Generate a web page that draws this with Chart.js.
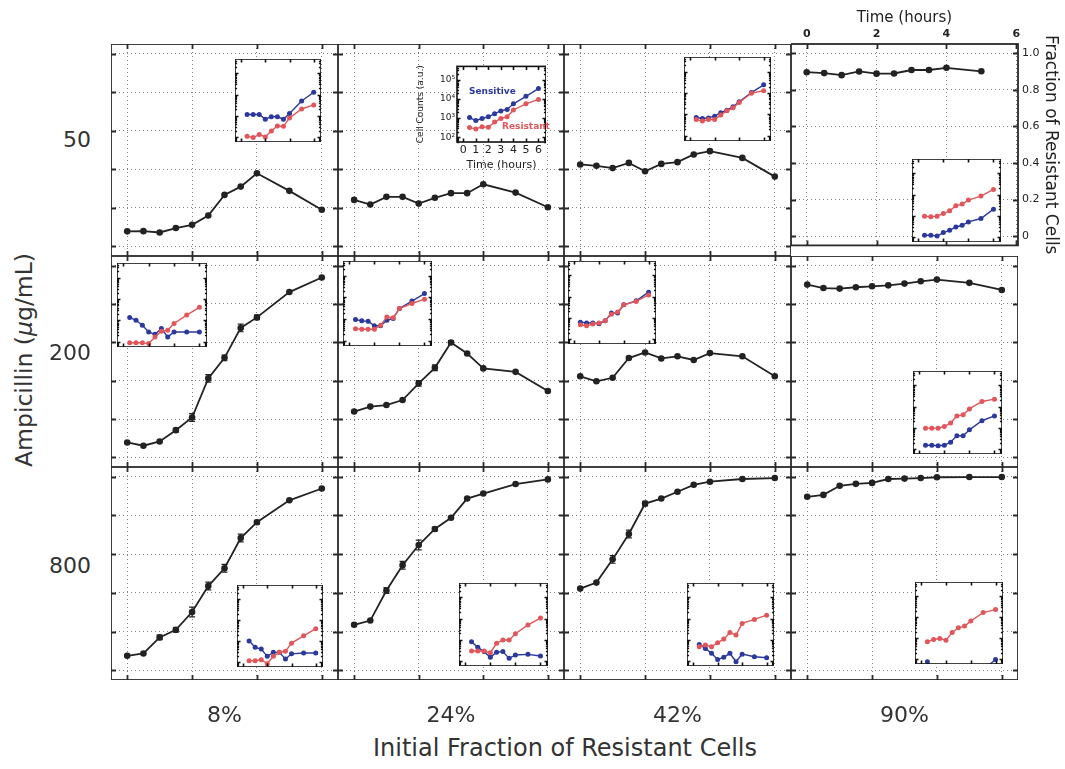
<!DOCTYPE html>
<html>
<head>
<meta charset="utf-8">
<script src="https://cdn.jsdelivr.net/npm/chart.js@4.4.0/dist/chart.umd.min.js"></script>
<style>
  body { margin: 0; background: #fff; }
  #fig { position: relative; width: 1065px; height: 769px; overflow: hidden; background: #fff; color: #333; font-family: "DejaVu Sans", sans-serif; }
  #fig canvas { position: absolute; }
  .lbl { position: absolute; white-space: nowrap; font-size: 22px; line-height: 1; }
  .title { font-size: 24px; }
  .tag { position: absolute; white-space: nowrap; font: bold 9px "DejaVu Sans", sans-serif; }
</style>
</head>
<body>
<div id="fig"></div>
<script>
// time points (hours)
const hours = [0, 0.5, 1, 1.5, 2, 2.5, 3, 3.5, 4, 5, 6];
const hoursTopRight = [0, 0.5, 1, 1.5, 2, 2.5, 3, 3.5, 4, 5];
const insetHours = [0.5, 1, 1.5, 2, 2.5, 3, 3.5, 4, 5, 6];

const ampicillin = ['50', '200', '800'];
const initialFraction = ['8%', '24%', '42%', '90%'];

const timeTicks = [0, 2, 4, 6];
const fractionTicks = [0, 0.2, 0.4, 0.6, 0.8, 1.0];
const fractionTickLabels = ['0', '0.2', '0.4', '0.6', '0.8', '1.0'];
const insetTimeTicks = [0, 1, 2, 3, 4, 5, 6];
const countTicks = [100, 1000, 10000, 100000];
const countTickLabels = ['10\u00b2', '10\u00b3', '10\u2074', '10\u2075'];

// fraction of resistant cells (rows: ampicillin, cols: initial fraction)
const frac_50_8   = [0.078, 0.079, 0.072, 0.095, 0.112, 0.160, 0.267, 0.310, 0.379, 0.288, 0.190];
const frac_50_24  = [0.241, 0.217, 0.257, 0.257, 0.222, 0.252, 0.276, 0.276, 0.322, 0.279, 0.203];
const frac_50_42  = [0.425, 0.418, 0.406, 0.433, 0.390, 0.428, 0.437, 0.477, 0.494, 0.459, 0.362];
const frac_50_90  = [0.896, 0.891, 0.880, 0.900, 0.888, 0.889, 0.908, 0.908, 0.920, 0.901];
const frac_200_8  = [0.078, 0.061, 0.083, 0.142, 0.208, 0.412, 0.519, 0.675, 0.730, 0.862, 0.938];
const frac_200_24 = [0.239, 0.265, 0.273, 0.299, 0.386, 0.467, 0.599, 0.542, 0.464, 0.446, 0.346];
const frac_200_42 = [0.423, 0.397, 0.415, 0.518, 0.547, 0.516, 0.527, 0.508, 0.544, 0.527, 0.423];
const frac_200_90 = [0.901, 0.883, 0.880, 0.887, 0.892, 0.897, 0.906, 0.918, 0.927, 0.910, 0.873];
const frac_800_8  = [0.075, 0.087, 0.170, 0.209, 0.301, 0.435, 0.527, 0.683, 0.765, 0.878, 0.939];
const frac_800_24 = [0.235, 0.257, 0.412, 0.543, 0.647, 0.730, 0.788, 0.887, 0.913, 0.962, 0.986];
const frac_800_42 = [0.422, 0.453, 0.573, 0.704, 0.861, 0.887, 0.922, 0.958, 0.974, 0.988, 0.993];
const frac_800_90 = [0.896, 0.906, 0.953, 0.963, 0.968, 0.988, 0.990, 0.993, 0.997, 0.998, 0.998];

// standard errors on the fraction (only where bars are visible)
const err_200_8  = [0, 0, 0, 0.01, 0.02, 0.02, 0.015, 0.02, 0.012, 0, 0];
const err_200_24 = [0, 0, 0, 0, 0.015, 0.015, 0.01, 0, 0, 0, 0];
const err_800_8  = [0, 0, 0.012, 0.012, 0.025, 0.02, 0.02, 0.02, 0.01, 0, 0];
const err_800_24 = [0, 0, 0.015, 0.02, 0.025, 0.01, 0, 0, 0, 0, 0];
const err_800_42 = [0, 0, 0.02, 0.02, 0.012, 0, 0, 0, 0, 0, 0];

// inset cell counts (a.u.): sensitive (blue) and resistant (red)
const sens_50_8   = [1150, 1150, 1150, 690, 890, 890, 690, 1290, 5000, 12900];
const res_50_8    = [107, 93, 129, 100, 190, 330, 316, 790, 2090, 3240];
const sens_50_24  = [1070, 740, 950, 1170, 1700, 2340, 2820, 5500, 13500, 33900];
const res_50_24   = [320, 275, 355, 330, 620, 950, 1170, 2630, 5500, 9300];
const sens_50_42  = [720, 650, 690, 830, 1200, 1580, 2290, 3890, 10500, 24000];
const res_50_42   = [575, 490, 575, 575, 930, 1480, 2040, 3630, 9770, 12900];
const sens_50_90  = [120, 120, 110, 160, 205, 295, 355, 510, 740, 2040];
const res_50_90   = [955, 890, 955, 1260, 1700, 2950, 3550, 5500, 8500, 17400];
const sens_200_8  = [1380, 1020, 600, 290, 224, 417, 170, 290, 290, 290];
const res_200_8   = [91, 91, 91, 83, 170, 316, 347, 724, 1780, 4070];
const sens_200_24 = [955, 830, 795, 490, 490, 890, 1070, 3090, 6760, 15100];
const res_200_24  = [363, 339, 339, 339, 525, 1260, 1150, 3090, 5250, 8320];
const sens_200_42 = [617, 562, 562, 525, 724, 1660, 1660, 4070, 6310, 16200];
const res_200_42  = [468, 417, 501, 562, 724, 1480, 1860, 4070, 5890, 12000];
const sens_200_90 = [148, 148, 141, 148, 209, 417, 417, 794, 2140, 3630];
const res_200_90  = [955, 955, 955, 1150, 1660, 3630, 4070, 7760, 17400, 22400];
const sens_800_8  = [1020, 501, 417, 186, 288, 288, 138, 245, 269, 269];
const res_800_8   = [115, 115, 129, 83, 186, 288, 324, 794, 1780, 3890];
const sens_800_24 = [813, 437, 275, 148, 257, 275, 132, 191, 204, 170];
const res_800_24  = [295, 295, 295, 245, 676, 977, 977, 1910, 5010, 10500];
const sens_800_42 = [603, 389, 229, 117, 148, 229, 91, 209, 158, 141];
const res_800_42  = [468, 562, 468, 724, 1070, 2190, 1660, 5890, 9120, 14500];
const sens_800_90 = [74, 30, 30, 30, 30, 30, 30, 30, 30, 95];
const res_800_90  = [661, 851, 955, 794, 1860, 3090, 3720, 6460, 16600, 22900];

const fractions = [
  [frac_50_8, frac_50_24, frac_50_42, frac_50_90],
  [frac_200_8, frac_200_24, frac_200_42, frac_200_90],
  [frac_800_8, frac_800_24, frac_800_42, frac_800_90]
];
const errors = [
  [null, null, null, null],
  [err_200_8, err_200_24, null, null],
  [err_800_8, err_800_24, err_800_42, null]
];
const sensitive = [
  [sens_50_8, sens_50_24, sens_50_42, sens_50_90],
  [sens_200_8, sens_200_24, sens_200_42, sens_200_90],
  [sens_800_8, sens_800_24, sens_800_42, sens_800_90]
];
const resistant = [
  [res_50_8, res_50_24, res_50_42, res_50_90],
  [res_200_8, res_200_24, res_200_42, res_200_90],
  [res_800_8, res_800_24, res_800_42, res_800_90]
];

// layout
const colX = [111, 338, 564, 791, 1018];
const rowY = [44, 256, 467, 680];
// inset plot boxes [left, top, width, height]
const insetBox = [
  [[235, 59, 86, 83], [457, 59, 89, 83], [684, 57, 87, 84], [912, 159, 89, 83]],
  [[117, 263, 90, 84], [343, 261, 89, 85], [568, 261, 88, 83], [913, 371, 89, 83]],
  [[237, 585, 86, 82], [459, 583, 89, 83], [687, 583, 87, 83], [915, 582, 88, 82]]
];

const BLUE = '#2b389c';
const RED = '#e0565a';
const INK = '#222';

const frameBox = {
  id: 'frameBox',
  beforeDraw(chart, args, o) {
    if (!o.fill) return;
    const { ctx, chartArea: a } = chart;
    ctx.save();
    ctx.fillStyle = o.fill;
    ctx.fillRect(a.left, a.top, a.width, a.height);
    ctx.restore();
  },
  afterDatasetsDraw(chart, args, o) {
    // error bars read from the dataset's own errors array
    const ds = chart.data.datasets[0];
    if (!ds.errors) return;
    const { ctx, scales: { y } } = chart;
    const meta = chart.getDatasetMeta(0);
    ctx.save();
    ctx.strokeStyle = INK;
    ctx.lineWidth = 1.2;
    ctx.beginPath();
    meta.data.forEach((pt, i) => {
      const e = ds.errors[i];
      if (!e) return;
      const v = ds.data[i].y;
      const y1 = y.getPixelForValue(v - e), y2 = y.getPixelForValue(v + e);
      ctx.moveTo(pt.x, y1); ctx.lineTo(pt.x, y2);
      ctx.moveTo(pt.x - 3, y1); ctx.lineTo(pt.x + 3, y1);
      ctx.moveTo(pt.x - 3, y2); ctx.lineTo(pt.x + 3, y2);
    });
    ctx.stroke();
    ctx.restore();
  },
  afterDraw(chart, args, o) {
    if (!o.color) return;
    const { ctx, chartArea: a, scales } = chart;
    const x = scales.x, y = scales.y;
    ctx.save();
    ctx.strokeStyle = o.color;
    ctx.lineWidth = o.lineWidth;
    ctx.beginPath();
    x.ticks.forEach(t => {
      const p = Math.round(x.getPixelForValue(t.value)) + 0.5;
      ctx.moveTo(p, a.top); ctx.lineTo(p, a.top + o.tick);
      ctx.moveTo(p, a.bottom); ctx.lineTo(p, a.bottom - o.tick);
    });
    y.ticks.forEach(t => {
      const p = Math.round(y.getPixelForValue(t.value)) + 0.5;
      ctx.moveTo(a.left, p); ctx.lineTo(a.left + o.tick, p);
      ctx.moveTo(a.right, p); ctx.lineTo(a.right - o.tick, p);
    });
    if (o.minor) {
      for (let e = 1; e < 6; e++) {
        for (let k = 2; k < 10; k++) {
          const v = k * Math.pow(10, e);
          if (v < y.min || v > y.max) continue;
          const p = Math.round(y.getPixelForValue(v)) + 0.5;
          ctx.moveTo(a.left, p); ctx.lineTo(a.left + o.tick * 0.6, p);
          ctx.moveTo(a.right, p); ctx.lineTo(a.right - o.tick * 0.6, p);
        }
      }
    }
    ctx.stroke();
    ctx.strokeRect(a.left, a.top, a.width, a.height);
    ctx.restore();
  }
};
Chart.register(frameBox);

const fig = document.getElementById('fig');

function addCanvas(left, top, w, h) {
  const c = document.createElement('canvas');
  c.width = w; c.height = h;
  c.style.left = left + 'px'; c.style.top = top + 'px';
  c.style.width = w + 'px'; c.style.height = h + 'px';
  fig.appendChild(c);
  return c;
}

function addLabel(text, x, y, cls, extra) {
  const d = document.createElement('div');
  d.className = cls;
  d.textContent = text;
  d.style.left = x + 'px';
  d.style.top = y + 'px';
  d.style.transform = extra || 'translate(-50%, -50%)';
  fig.appendChild(d);
  return d;
}

const setTicks = list => scale => { scale.ticks = list.map(v => ({ value: v })); };
const fixSize = (key, size) => scale => { scale[key] = size; };

// main panels
for (let r = 0; r < 3; r++) {
  for (let c = 0; c < 4; c++) {
    const topRight = (r === 0 && c === 3);
    const times = topRight ? hoursTopRight : hours;
    const vals = fractions[r][c];
    const w = colX[c + 1] - colX[c], h = rowY[r + 1] - rowY[r];
    const canvas = topRight
      ? addCanvas(colX[c], 0, w + 47, rowY[1])
      : addCanvas(colX[c], rowY[r], w, h);

    new Chart(canvas, {
      type: 'line',
      data: {
        datasets: [{
          data: times.map((t, i) => ({ x: t, y: vals[i] })),
          errors: errors[r][c],
          borderColor: INK,
          backgroundColor: INK,
          borderWidth: 1.8,
          pointRadius: 3.3,
          pointBorderWidth: 0,
          pointBackgroundColor: INK,
          tension: 0
        }]
      },
      options: {
        responsive: false,
        animation: false,
        events: [],
        layout: { padding: 0, autoPadding: false },
        plugins: {
          legend: { display: false },
          tooltip: { enabled: false },
          frameBox: { color: '#2a2a2a', lineWidth: 1.8, tick: 5 }
        },
        scales: {
          x: {
            type: 'linear',
            position: topRight ? 'top' : 'bottom',
            min: topRight ? -0.45 : -0.5,
            max: topRight ? 6.05 : 6.5,
            afterBuildTicks: setTicks(timeTicks),
            afterFit: fixSize('height', topRight ? 44 : 0),
            grid: { color: '#808080', lineWidth: 1, drawTicks: false },
            border: { display: false, dash: [1, 3] },
            ticks: {
              display: topRight,
              padding: 3,
              color: INK,
              font: { family: 'DejaVu Sans', size: 11, weight: 'bold' }
            },
            title: {
              display: topRight,
              text: 'Time (hours)',
              color: INK,
              padding: { top: 9, bottom: 0 },
              font: { family: 'DejaVu Sans', size: 15 }
            }
          },
          y: {
            type: 'linear',
            position: topRight ? 'right' : 'left',
            min: -0.05,
            max: 1.05,
            afterBuildTicks: setTicks(fractionTicks),
            afterFit: fixSize('width', topRight ? 47 : 0),
            grid: { color: '#808080', lineWidth: 1, drawTicks: false },
            border: { display: false, dash: [1, 3] },
            ticks: {
              display: topRight,
              padding: 4,
              color: INK,
              font: { family: 'DejaVu Sans', size: 11 },
              callback: v => fractionTickLabels[fractionTicks.indexOf(v)]
            },
            title: {
              display: topRight,
              text: 'Fraction of Resistant Cells',
              color: INK,
              padding: { top: 4, bottom: 0 },
              font: { family: 'DejaVu Sans', size: 17 }
            }
          }
        }
      }
    });
  }
}

// insets
for (let r = 0; r < 3; r++) {
  for (let c = 0; c < 4; c++) {
    const labeled = (r === 0 && c === 1);
    const [bx, by, bw, bh] = insetBox[r][c];
    const padL = labeled ? 42 : 0, padB = labeled ? 30 : 0;
    const canvas = addCanvas(bx - padL, by, bw + padL, bh + padB);
    const sens = sensitive[r][c], res = resistant[r][c];
    const series = (vals, color) => ({
      data: insetHours.map((t, i) => ({ x: t, y: vals[i] })),
      borderColor: color,
      backgroundColor: color,
      borderWidth: 1.4,
      pointRadius: 2.5,
      pointBorderWidth: 0,
      tension: 0
    });

    new Chart(canvas, {
      type: 'line',
      data: { datasets: [series(res, RED), series(sens, BLUE)] },
      options: {
        responsive: false,
        animation: false,
        events: [],
        layout: { padding: 0, autoPadding: false },
        plugins: {
          legend: { display: false },
          tooltip: { enabled: false },
          frameBox: { fill: '#fff', color: '#111', lineWidth: 1.6, tick: 3.5, minor: true }
        },
        scales: {
          x: {
            type: 'linear',
            min: -0.5,
            max: 6.6,
            afterBuildTicks: setTicks(labeled ? insetTimeTicks : timeTicks),
            afterFit: fixSize('height', padB),
            grid: { display: false, drawTicks: false },
            border: { display: false },
            ticks: {
              display: labeled,
              padding: 2,
              color: INK,
              font: { family: 'DejaVu Sans', size: 11 }
            },
            title: {
              display: labeled,
              text: 'Time (hours)',
              color: INK,
              padding: 0,
              font: { family: 'DejaVu Sans', size: 11 }
            }
          },
          y: {
            type: 'logarithmic',
            min: 57.5,
            max: 478630,
            afterBuildTicks: setTicks(countTicks),
            afterFit: fixSize('width', padL),
            grid: { display: false, drawTicks: false },
            border: { display: false },
            ticks: {
              display: labeled,
              padding: 2,
              color: INK,
              font: { family: 'DejaVu Sans', size: 9 },
              callback: v => countTickLabels[countTicks.indexOf(v)]
            },
            title: {
              display: labeled,
              text: 'Cell Counts (a.u.)',
              color: INK,
              padding: 0,
              font: { family: 'DejaVu Sans', size: 9 }
            }
          }
        }
      }
    });
  }
}

// series names inside the labelled inset
const s = addLabel('Sensitive', 469, 86, 'tag', 'none');
s.style.color = BLUE;
const rr = addLabel('Resistant', 502, 121, 'tag', 'none');
rr.style.color = RED;

// row / column labels and figure titles
const rowLabelY = [140, 353, 566];
ampicillin.forEach((t, i) => addLabel(t, 91, rowLabelY[i], 'lbl', 'translate(-100%, -50%)'));
initialFraction.forEach((t, i) => addLabel(t, (colX[i] + colX[i + 1]) / 2, 715, 'lbl'));
addLabel('Initial Fraction of Resistant Cells', 565, 748, 'lbl title');
const yl = addLabel('', 25, 360, 'lbl title', 'translate(-50%, -50%) rotate(-90deg)');
yl.style.fontSize = '23.5px';
yl.innerHTML = 'Ampicillin (<i>\u03bc</i>g/mL)';
</script>
</body>
</html>
